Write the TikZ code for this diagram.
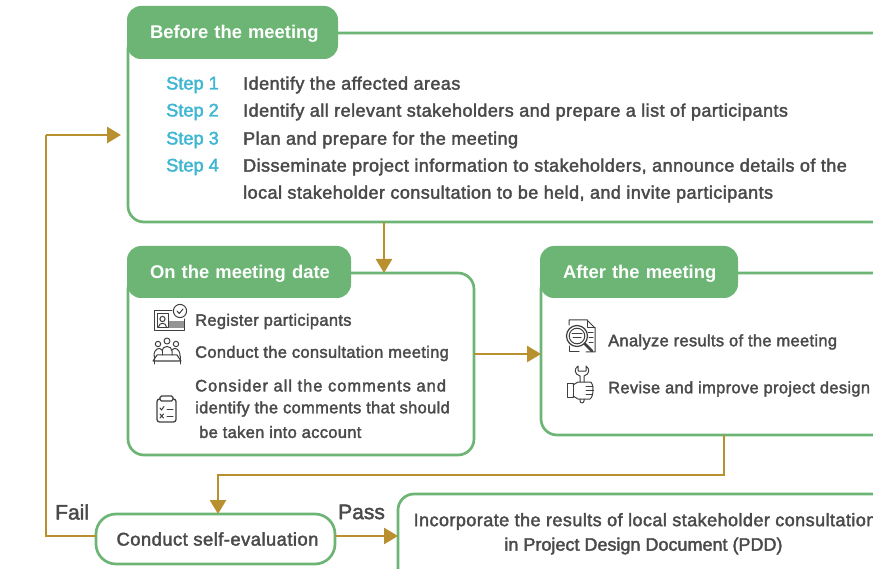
\documentclass[tikz,border=0pt]{standalone}
\usepackage{fontspec}
\setmainfont{Liberation Sans}[FakeBold=2.1,LetterSpace=2.5]
\newfontfamily\smallfont{Liberation Sans}[FakeBold=2.1,LetterSpace=1.9]
\newfontfamily\widefont{Liberation Sans}[FakeBold=2.1,LetterSpace=5.9]
\newfontfamily\plainfont{Liberation Sans}[FakeBold=2.1]
\newfontfamily\headfont{Liberation Sans Bold}
\usetikzlibrary{arrows.meta}
\definecolor{gr}{HTML}{6DB575}
\definecolor{gold}{HTML}{B8912E}
\definecolor{txt}{HTML}{4A4A4A}
\definecolor{stp}{HTML}{3FB6D2}
\definecolor{ic}{HTML}{3F3F3F}
\tikzset{
 panel/.style={draw=gr,line width=2.7pt,fill=white,rounded corners=16pt,anchor=north west,inner sep=0pt,outer sep=0pt},
 head/.style={fill=gr,rounded corners=14pt,anchor=north west,inner sep=0pt,outer sep=0pt,text=white,font=\headfont\fontsize{18.4}{20}\selectfont},
 body/.style={anchor=west,inner sep=0pt,text=txt,font=\fontsize{18}{20}\selectfont},
 small/.style={anchor=west,inner sep=0pt,text=txt,font=\smallfont\fontsize{16.5}{20}\selectfont},
 wide/.style={anchor=west,inner sep=0pt,text=txt,font=\widefont\fontsize{16.5}{20}\selectfont},
 steplab/.style={anchor=west,inner sep=0pt,text=stp,font=\plainfont\fontsize{18.2}{20}\selectfont},
 biglab/.style={anchor=west,inner sep=0pt,text=txt,font=\plainfont\fontsize{21}{22}\selectfont},
 flow/.style={draw=gold,line width=2.8pt,-{Triangle[length=14pt,width=16pt]}},
 flowplain/.style={draw=gold,line width=2.8pt},
 icn/.style={draw=ic,line width=1pt,fill=none,line join=round,line cap=round},
}
\begin{document}
\begin{tikzpicture}[x=1pt,y=-1pt]
\useasboundingbox (0,0) rectangle (873,569);
% panels
\node[panel,minimum width=790pt,minimum height=189pt] (before) at (128,33) {};
\node[head,minimum width=211pt,minimum height=53pt,text width=211pt,align=left] (beforeh) at (127,6) {\hspace*{23pt}\smash{\raisebox{-6.5pt}{Before the meeting}}};
\node[panel,minimum width=346pt,minimum height=182pt] (ondate) at (128,273) {};
\node[head,minimum width=224pt,minimum height=52pt,text width=224pt,align=left] (ondateh) at (127,246) {\hspace*{23pt}\smash{\raisebox{-6.5pt}{On the meeting date}}};
\node[panel,minimum width=380pt,minimum height=162pt] (after) at (541,273) {};
\node[head,minimum width=198pt,minimum height=52pt,text width=198pt,align=left] (afterh) at (540,246) {\hspace*{23pt}\smash{\raisebox{-6.5pt}{After the meeting}}};
\node[panel,rounded corners=20pt,minimum width=239pt,minimum height=50pt] (selfev) at (96,514) {};
\node[panel,minimum width=520pt,minimum height=110pt] (pdd) at (398,494) {};
% before text
\node[steplab] (s1) at (166,85) {Step 1};
\node[steplab] (s2) at (166,112) {Step 2};
\node[steplab] (s3) at (166,140) {Step 3};
\node[steplab] (s4) at (166,167) {Step 4};
\node[body] (t1) at (243,85) {Identify the affected areas};
\node[body] (t2) at (243,112) {Identify all relevant stakeholders and prepare a list of participants};
\node[body] (t3) at (243,140) {Plan and prepare for the meeting};
\node[body] (t4) at (243,167) {Disseminate project information to stakeholders, announce details of the};
\node[body] (t5) at (243,194) {local stakeholder consultation to be held, and invite participants};
% on date text
\node[small] (o1) at (195,321.5) {Register participants};
\node[small] (o2) at (195,353.5) {Conduct the consultation meeting};
\node[wide] (o3) at (195,385.5) {Consider all the comments and};
\node[small] (o4) at (195,409) {identify the comments that should};
\node[small] (o5) at (199,432) {be taken into account};
% after text
\node[small] (a1) at (608,342) {Analyze results of the meeting};
\node[small] (a2) at (608,389) {Revise and improve project design};
% bottom
\node[anchor=center,inner sep=0pt,text=txt,font=\fontsize{18.4}{20}\selectfont] (selft) at (217.5,539) {Conduct self-evaluation};
\node[body,anchor=center] (pdd1) at (645,521.5) {Incorporate the results of local stakeholder consultation};
\node[anchor=center,inner sep=0pt,text=txt,font=\plainfont\fontsize{18}{20}\selectfont] (pdd2) at (643.5,546) {in Project Design Document (PDD)};
\node[biglab] (fail) at (55,512) {Fail};
\node[biglab] (pass) at (338,512) {Pass};
% connectors
\coordinate (xa) at (384,0);
\coordinate (ya) at (0,354);
\coordinate (xb) at (724,0);
\coordinate (xc) at (218,0);
\coordinate (bend1) at (724,475);
\coordinate (bend2) at (218,475);
\coordinate (yd) at (0,536);
\coordinate (f1) at (46,536);
\coordinate (f2) at (46,135);
\coordinate (f3) at (121,135);
\draw[flow] (before.south -| xa) -- (ondate.north -| xa);
\draw[flow] (ondate.east |- ya) -- (after.west |- ya);
\draw[flow] (after.south -| xb) -- (bend1) -- (bend2) -- (selfev.north -| xc);
\draw[flowplain] (selfev.west |- yd) -- (f1) -- (f2);
\draw[flow] (f2) -- (f3);
\draw[flow] (selfev.east |- yd) -- (pdd.west |- yd);
% icons
\begin{scope}[icn]
 % registration card
 \draw (172,311) -- (154,311) -- (154,331) -- (184,331) -- (184,319);
 \fill[ic!55] (169,321) rectangle (184,328);
 \draw (157,314) rectangle (168,328);
 \draw (162.5,319) circle (2.6);
 \draw (158.5,327) .. controls (159,322) and (166,322) .. (166.5,327);
 \draw (180,311) circle (6.6);
 \draw (177,311) -- (179.3,313.5) -- (183,309);
 % people at table
 \draw (167,341) circle (3);
 \draw (158,344) circle (2.7);
 \draw (176,344) circle (2.7);
 \draw (162,351) .. controls (162,345) and (172,345) .. (172,351) -- (172,355);
 \draw (162,351) -- (162,355);
 \draw (154,356) .. controls (154,348) and (160,347) .. (162,350);
 \draw (180,356) .. controls (180,348) and (174,347) .. (172,350);
 \draw (157,355) -- (177,355) -- (181,361) -- (153,361) -- cycle;
 \draw (154,356) -- (154,364);
 \draw (180,356) -- (180,364);
 % clipboard
 \draw[line width=1.3pt,rounded corners=2.5pt] (160,399) -- (157,399) -- (157,422) -- (176,422) -- (176,399) -- (173,399);
 \draw[line width=1.3pt,rounded corners=1.5pt] (160,396) rectangle (173,401);
 \draw (160,408) -- (161.5,410) -- (164,406.5);
 \draw (160,414) -- (163.5,418) (163.5,414) -- (160,418);
 \draw (167,409) -- (173,409);
 \draw (167,416) -- (173,416);
 % document and magnifier
 \draw (569,325) -- (569,320) -- (587,320) -- (595,328) -- (595,352) -- (586,352);
 \draw (587,320) -- (587,328) -- (595,328);
 \draw (569,346) -- (569,352) -- (579,352);
 \draw (588,333) -- (593,333) (589,338) -- (593,338) (589,343) -- (593,343);
 \draw[line width=1.2pt] (577,336) circle (10.5);
 \draw (577,336) circle (7.8);
 \draw (572,334) -- (582,334) (573,338) -- (581,338);
 \draw[line width=2.6pt] (585,344) -- (592,351);
 % hand and wrench
 \draw (567,383) rectangle (573,397);
 \draw (573,385) -- (578,382) -- (590,382) .. controls (594,382) and (594,397) .. (590,399) -- (578,399) -- (573,396);
 \draw (586,386) -- (593,386) (586,390) -- (593.5,390) (586,394) -- (592,394);
 \draw (580,382) -- (580,376) .. controls (574,374) and (574,369) .. (578,366) -- (578,371) -- (586,371) -- (586,366) .. controls (590,369) and (590,374) .. (584,376) -- (584,382);
 \draw (580,399) -- (580,401) .. controls (580,403.5) and (584,403.5) .. (584,401) -- (584,399);
\end{scope}
\end{tikzpicture}
\end{document}
